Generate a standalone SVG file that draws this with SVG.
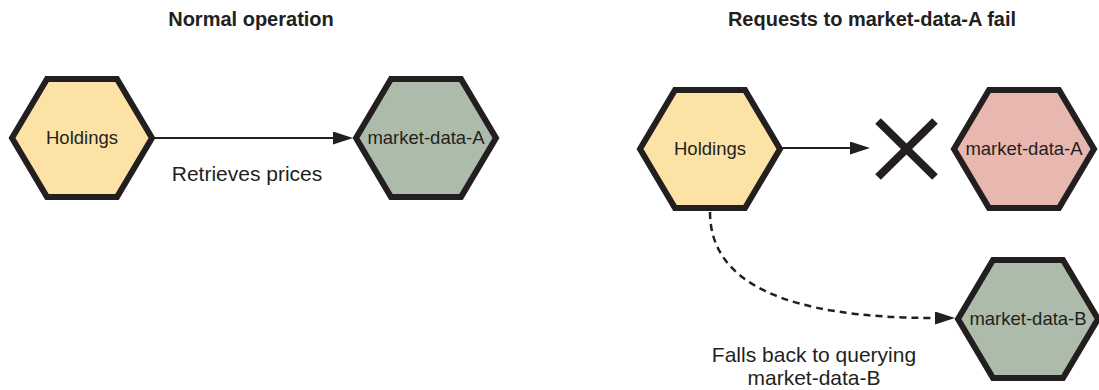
<svg xmlns="http://www.w3.org/2000/svg" width="1099" height="390" viewBox="0 0 1099 390">
  <style>
    .hex { stroke: #231f20; stroke-width: 6; stroke-linejoin: miter; }
    .yellow { fill: #fde2a6; }
    .green { fill: #adbcaa; }
    .pink { fill: #e8b8b0; }
    .label { font-family: "Liberation Sans", Arial, sans-serif; font-size: 18.5px; fill: #231f20; text-anchor: middle; }
    .edge-label { font-family: "Liberation Sans", Arial, sans-serif; font-size: 21px; fill: #231f20; text-anchor: middle; }
    .title { font-family: "Liberation Sans", Arial, sans-serif; font-size: 20px; font-weight: bold; fill: #231f20; text-anchor: middle; }
    .conn { fill: none; stroke: #231f20; stroke-width: 2; }
    .dashed { stroke-dasharray: 7 5; stroke-width: 2.5; }
  </style>
  <defs>
    <marker id="arrow" markerUnits="userSpaceOnUse" markerWidth="20" markerHeight="14" refX="0" refY="6.5" orient="auto">
      <path d="M0,0 L20,6.5 L0,13 z" fill="#231f20"/>
    </marker>
  </defs>

  <text class="title" x="251" y="26">Normal operation</text>
  <text class="title" x="872" y="26">Requests to market-data-A fail</text>

  <g id="connectors">
    <line class="conn" x1="152" y1="138" x2="333" y2="138" marker-end="url(#arrow)"/>
    <line class="conn" x1="780" y1="148" x2="850" y2="148" marker-end="url(#arrow)"/>
    <path class="conn dashed" d="M710,212 Q710,318 935,318" marker-end="url(#arrow)"/>
    <text class="edge-label" x="247" y="181">Retrieves prices</text>
    <text class="edge-label" x="814" y="362">Falls back to querying</text>
    <text class="edge-label" x="814" y="385">market-data-B</text>
  </g>

  <g id="holdings-normal">
    <polygon class="hex yellow" points="12,138 47,79 117,79 152,138 117,197 47,197"/>
    <text class="label" x="82" y="144">Holdings</text>
  </g>

  <g id="market-data-a-normal">
    <polygon class="hex green" points="356,138 391,79 461,79 496,138 461,197 391,197"/>
    <text class="label" x="426" y="144">market-data-A</text>
  </g>

  <g id="holdings-fail">
    <polygon class="hex yellow" points="640,149 675,90 745,90 780,149 745,208 675,208"/>
    <text class="label" x="710" y="155">Holdings</text>
  </g>

  <g id="failure-x">
    <line x1="878" y1="121" x2="935" y2="177" stroke="#231f20" stroke-width="8"/>
    <line x1="935" y1="121" x2="878" y2="177" stroke="#231f20" stroke-width="8"/>
  </g>

  <g id="market-data-a-fail">
    <polygon class="hex pink" points="954,149 989,90 1059,90 1094,149 1059,208 989,208"/>
    <text class="label" x="1024" y="155">market-data-A</text>
  </g>

  <g id="market-data-b">
    <polygon class="hex green" points="958,319 993,260 1063,260 1098,319 1063,378 993,378"/>
    <text class="label" x="1028" y="325">market-data-B</text>
  </g>
</svg>
